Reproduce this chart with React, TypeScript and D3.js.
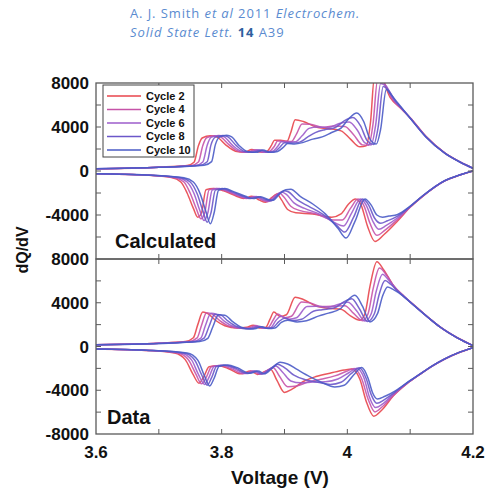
import React from "react";
import * as d3 from "d3";

type Pt = [number, number];

// Calculated panel, charge branch (dQ/dV > 0)
const calcChg2: Pt[] = [[3.6,200],[3.7,350],[3.745,500],[3.756,800],[3.763,2300],[3.769,3000],[3.782,3200],[3.792,3100],[3.806,2400],[3.822,1800],[3.836,1700],[3.848,1950],[3.86,1720],[3.872,1800],[3.879,2300],[3.884,2800],[3.894,2800],[3.904,2700],[3.91,3500],[3.917,4650],[3.93,4500],[3.95,4000],[3.97,3850],[3.99,3650],[4.005,2900],[4.02,2200],[4.03,2300],[4.037,4500],[4.043,8500],[4.053,8500],[4.068,6700],[4.085,5700],[4.1,4850],[4.125,3150],[4.155,1650],[4.18,800],[4.2,250]];
const calcChg4: Pt[] = [[3.6,200],[3.7,345],[3.752,505],[3.763,813],[3.77,2325],[3.776,3025],[3.789,3213],[3.798,3100],[3.812,2375],[3.827,1788],[3.841,1700],[3.853,1938],[3.864,1715],[3.876,1795],[3.884,2263],[3.889,2725],[3.9,2713],[3.911,2675],[3.919,3350],[3.928,4263],[3.941,4250],[3.96,3975],[3.978,4088],[3.996,4055],[4.01,3300],[4.024,2375],[4.034,2338],[4.041,4325],[4.048,8225],[4.057,8100],[4.071,6575],[4.086,5650],[4.1,4838],[4.125,3138],[4.155,1643],[4.18,798],[4.2,250]];
const calcChg6: Pt[] = [[3.6,200],[3.7,340],[3.759,510],[3.77,825],[3.777,2350],[3.783,3050],[3.795,3225],[3.804,3100],[3.817,2350],[3.832,1775],[3.846,1700],[3.857,1925],[3.869,1710],[3.881,1790],[3.889,2225],[3.895,2650],[3.905,2625],[3.917,2650],[3.928,3200],[3.939,3875],[3.953,4000],[3.97,3950],[3.987,4325],[4.003,4460],[4.016,3700],[4.028,2550],[4.038,2375],[4.045,4150],[4.053,7950],[4.062,7700],[4.074,6450],[4.088,5600],[4.1,4825],[4.125,3125],[4.155,1635],[4.18,795],[4.2,250]];
const calcChg8: Pt[] = [[3.6,200],[3.7,335],[3.765,515],[3.777,838],[3.783,2375],[3.79,3075],[3.802,3238],[3.81,3100],[3.823,2325],[3.837,1763],[3.85,1700],[3.862,1913],[3.873,1705],[3.885,1785],[3.893,2188],[3.9,2575],[3.911,2538],[3.924,2625],[3.936,3050],[3.949,3488],[3.964,3750],[3.98,3925],[3.995,4563],[4.009,4865],[4.021,4100],[4.032,2725],[4.042,2413],[4.049,3975],[4.057,7675],[4.066,7300],[4.077,6325],[4.089,5550],[4.1,4813],[4.125,3113],[4.155,1628],[4.18,793],[4.2,250]];
const calcChg10: Pt[] = [[3.6,200],[3.7,330],[3.772,520],[3.784,850],[3.79,2400],[3.797,3100],[3.808,3250],[3.816,3100],[3.828,2300],[3.842,1750],[3.855,1700],[3.866,1900],[3.877,1700],[3.889,1780],[3.898,2150],[3.905,2500],[3.916,2450],[3.93,2600],[3.945,2900],[3.96,3100],[3.975,3500],[3.99,3900],[4.003,4800],[4.015,5270],[4.026,4500],[4.036,2900],[4.046,2450],[4.053,3800],[4.062,7400],[4.07,6900],[4.08,6200],[4.09,5500],[4.1,4800],[4.125,3100],[4.155,1620],[4.18,790],[4.2,250]];

// Calculated panel, discharge branch (dQ/dV < 0)
const calcDis2: Pt[] = [[3.6,-250],[3.68,-380],[3.72,-600],[3.735,-1000],[3.745,-2000],[3.755,-3400],[3.762,-4200],[3.768,-3800],[3.775,-1700],[3.787,-1600],[3.803,-1800],[3.822,-2250],[3.835,-2500],[3.848,-2300],[3.86,-2650],[3.87,-2850],[3.879,-2450],[3.888,-2100],[3.895,-2600],[3.905,-3500],[3.918,-3800],[3.945,-3900],[3.975,-4200],[3.99,-3900],[4.002,-3000],[4.013,-2550],[4.022,-3100],[4.032,-5000],[4.044,-6400],[4.058,-5800],[4.08,-4550],[4.1,-3300],[4.12,-2300],[4.155,-900],[4.18,-350],[4.2,0]];
const calcDis4: Pt[] = [[3.6,-250],[3.68,-375],[3.725,-605],[3.74,-1000],[3.75,-2025],[3.76,-3475],[3.767,-4350],[3.773,-3800],[3.78,-1713],[3.792,-1600],[3.807,-1825],[3.826,-2263],[3.839,-2500],[3.852,-2313],[3.864,-2638],[3.873,-2800],[3.882,-2363],[3.892,-2000],[3.899,-2363],[3.91,-3200],[3.925,-3600],[3.95,-3900],[3.978,-4450],[3.992,-4450],[4.005,-3400],[4.017,-2550],[4.026,-3100],[4.036,-4750],[4.047,-5850],[4.06,-5375],[4.08,-4400],[4.1,-3275],[4.12,-2288],[4.155,-895],[4.18,-348],[4.2,0]];
const calcDis6: Pt[] = [[3.6,-250],[3.68,-370],[3.73,-610],[3.745,-1000],[3.756,-2050],[3.765,-3550],[3.772,-4500],[3.778,-3800],[3.785,-1725],[3.796,-1600],[3.812,-1850],[3.83,-2275],[3.843,-2500],[3.855,-2325],[3.867,-2625],[3.876,-2750],[3.886,-2275],[3.895,-1900],[3.903,-2125],[3.915,-2900],[3.932,-3400],[3.955,-3900],[3.98,-4700],[3.994,-5000],[4.007,-3800],[4.021,-2550],[4.03,-3100],[4.04,-4500],[4.05,-5300],[4.062,-4950],[4.08,-4250],[4.1,-3250],[4.12,-2275],[4.155,-890],[4.18,-345],[4.2,0]];
const calcDis8: Pt[] = [[3.6,-250],[3.68,-365],[3.735,-615],[3.75,-1000],[3.761,-2075],[3.77,-3625],[3.777,-4650],[3.783,-3800],[3.79,-1738],[3.801,-1600],[3.816,-1875],[3.834,-2288],[3.846,-2500],[3.859,-2338],[3.871,-2613],[3.879,-2700],[3.889,-2188],[3.899,-1800],[3.906,-1888],[3.92,-2600],[3.938,-3200],[3.96,-3900],[3.983,-4950],[3.996,-5550],[4.01,-4200],[4.024,-2550],[4.034,-3100],[4.043,-4250],[4.053,-4750],[4.064,-4525],[4.08,-4100],[4.1,-3225],[4.12,-2263],[4.155,-885],[4.18,-343],[4.2,0]];
const calcDis10: Pt[] = [[3.6,-250],[3.68,-360],[3.74,-620],[3.755,-1000],[3.766,-2100],[3.775,-3700],[3.782,-4800],[3.788,-3800],[3.795,-1750],[3.805,-1600],[3.82,-1900],[3.838,-2300],[3.85,-2500],[3.862,-2350],[3.874,-2600],[3.882,-2650],[3.892,-2100],[3.902,-1700],[3.91,-1650],[3.925,-2300],[3.945,-3000],[3.965,-3900],[3.985,-5200],[3.998,-6100],[4.012,-4600],[4.028,-2550],[4.038,-3100],[4.047,-4000],[4.056,-4200],[4.066,-4100],[4.08,-3950],[4.1,-3200],[4.12,-2250],[4.155,-880],[4.18,-340],[4.2,0]];

// Data panel, charge branch
const dataChg2: Pt[] = [[3.6,170],[3.7,300],[3.742,450],[3.755,800],[3.762,2000],[3.77,3150],[3.778,3000],[3.79,2400],[3.805,1900],[3.825,1700],[3.84,1750],[3.85,1950],[3.86,1700],[3.87,1750],[3.877,2500],[3.883,3150],[3.893,2750],[3.903,2900],[3.917,4500],[3.93,4300],[3.95,3700],[3.97,3500],[3.99,3400],[4.005,2800],[4.02,2400],[4.028,3000],[4.036,5500],[4.047,7750],[4.058,7000],[4.073,5600],[4.09,4600],[4.11,3600],[4.13,2600],[4.148,1770],[4.175,800],[4.2,80]];
const dataChg4: Pt[] = [[3.6,170],[3.7,295],[3.748,450],[3.761,788],[3.768,1950],[3.776,3090],[3.785,2960],[3.797,2360],[3.811,1875],[3.83,1675],[3.844,1725],[3.854,1913],[3.864,1688],[3.874,1738],[3.882,2425],[3.889,2963],[3.9,2625],[3.911,2763],[3.927,4075],[3.94,3988],[3.96,3650],[3.978,3675],[3.996,3720],[4.01,3025],[4.024,2363],[4.033,3000],[4.041,5275],[4.051,7175],[4.062,6563],[4.075,5425],[4.091,4525],[4.11,3588],[4.13,2595],[4.148,1768],[4.175,798],[4.2,80]];
const dataChg6: Pt[] = [[3.6,170],[3.7,290],[3.754,450],[3.767,775],[3.774,1900],[3.783,3030],[3.792,2925],[3.804,2325],[3.818,1850],[3.835,1650],[3.848,1700],[3.857,1875],[3.867,1675],[3.878,1725],[3.886,2350],[3.894,2775],[3.907,2500],[3.919,2625],[3.936,3650],[3.95,3675],[3.97,3600],[3.985,3850],[4.001,4040],[4.015,3250],[4.028,2325],[4.038,3000],[4.046,5050],[4.056,6600],[4.065,6125],[4.078,5250],[4.093,4450],[4.11,3575],[4.13,2590],[4.148,1765],[4.175,795],[4.2,80]];
const dataChg8: Pt[] = [[3.6,170],[3.7,285],[3.759,450],[3.772,763],[3.78,1850],[3.789,2960],[3.798,2890],[3.811,2290],[3.824,1825],[3.84,1625],[3.851,1675],[3.861,1838],[3.871,1663],[3.881,1713],[3.891,2275],[3.9,2588],[3.913,2375],[3.927,2488],[3.946,3225],[3.96,3363],[3.98,3550],[3.993,4025],[4.007,4360],[4.019,3475],[4.032,2288],[4.043,3000],[4.051,4825],[4.06,6025],[4.069,5688],[4.08,5075],[4.094,4375],[4.11,3563],[4.13,2585],[4.148,1763],[4.175,793],[4.2,80]];
const dataChg10: Pt[] = [[3.6,170],[3.7,280],[3.765,450],[3.778,750],[3.786,1800],[3.795,2900],[3.805,2850],[3.818,2250],[3.83,1800],[3.845,1600],[3.855,1650],[3.864,1800],[3.874,1650],[3.885,1700],[3.895,2200],[3.905,2400],[3.92,2250],[3.935,2350],[3.955,2800],[3.97,3050],[3.99,3500],[4.0,4200],[4.012,4680],[4.024,3700],[4.036,2250],[4.048,3000],[4.056,4600],[4.064,5450],[4.072,5250],[4.082,4900],[4.095,4300],[4.11,3550],[4.13,2580],[4.148,1760],[4.175,790],[4.2,80]];

// Data panel, discharge branch
const dataDis2: Pt[] = [[3.6,-230],[3.68,-360],[3.725,-600],[3.742,-1200],[3.754,-2500],[3.764,-3350],[3.772,-2700],[3.78,-1850],[3.795,-1750],[3.812,-2050],[3.83,-2500],[3.846,-2250],[3.857,-2550],[3.868,-2300],[3.878,-2100],[3.888,-3100],[3.9,-4200],[3.912,-3900],[3.93,-3200],[3.95,-2750],[3.975,-2400],[3.995,-2150],[4.007,-2050],[4.02,-3000],[4.03,-5000],[4.042,-6370],[4.055,-5800],[4.073,-4530],[4.095,-3400],[4.116,-2530],[4.135,-1800],[4.155,-1150],[4.18,-500],[4.2,-100]];
const dataDis4: Pt[] = [[3.6,-230],[3.68,-355],[3.73,-600],[3.747,-1213],[3.759,-2525],[3.768,-3413],[3.776,-2750],[3.784,-1838],[3.799,-1738],[3.815,-2025],[3.834,-2488],[3.849,-2250],[3.86,-2538],[3.871,-2225],[3.882,-1938],[3.892,-2725],[3.905,-3675],[3.919,-3613],[3.938,-3225],[3.958,-2988],[3.98,-2688],[3.999,-2263],[4.011,-2018],[4.023,-2975],[4.033,-4800],[4.044,-5978],[4.056,-5488],[4.074,-4423],[4.095,-3375],[4.116,-2523],[4.135,-1795],[4.155,-1145],[4.18,-498],[4.2,-100]];
const dataDis6: Pt[] = [[3.6,-230],[3.68,-350],[3.735,-600],[3.752,-1225],[3.763,-2550],[3.773,-3475],[3.78,-2800],[3.788,-1825],[3.803,-1725],[3.819,-2000],[3.838,-2475],[3.852,-2250],[3.863,-2525],[3.874,-2150],[3.886,-1775],[3.897,-2350],[3.91,-3150],[3.926,-3325],[3.945,-3250],[3.965,-3225],[3.985,-2975],[4.003,-2375],[4.015,-1985],[4.027,-2950],[4.035,-4600],[4.045,-5585],[4.058,-5175],[4.074,-4315],[4.095,-3350],[4.116,-2515],[4.135,-1790],[4.155,-1140],[4.18,-495],[4.2,-100]];
const dataDis8: Pt[] = [[3.6,-230],[3.68,-345],[3.74,-600],[3.757,-1238],[3.768,-2575],[3.777,-3538],[3.784,-2850],[3.792,-1813],[3.806,-1713],[3.822,-1975],[3.841,-2463],[3.855,-2250],[3.865,-2513],[3.877,-2075],[3.889,-1613],[3.901,-1975],[3.915,-2625],[3.933,-3038],[3.953,-3275],[3.973,-3463],[3.99,-3263],[4.006,-2488],[4.019,-1953],[4.03,-2925],[4.038,-4400],[4.047,-5193],[4.059,-4863],[4.075,-4208],[4.095,-3325],[4.116,-2508],[4.135,-1785],[4.155,-1135],[4.18,-493],[4.2,-100]];
const dataDis10: Pt[] = [[3.6,-230],[3.68,-340],[3.745,-600],[3.762,-1250],[3.772,-2600],[3.781,-3600],[3.788,-2900],[3.796,-1800],[3.81,-1700],[3.825,-1950],[3.845,-2450],[3.858,-2250],[3.868,-2500],[3.88,-2000],[3.893,-1450],[3.905,-1600],[3.92,-2100],[3.94,-2750],[3.96,-3300],[3.98,-3700],[3.995,-3550],[4.01,-2600],[4.023,-1920],[4.033,-2900],[4.04,-4200],[4.048,-4800],[4.06,-4550],[4.075,-4100],[4.095,-3300],[4.116,-2500],[4.135,-1780],[4.155,-1130],[4.18,-490],[4.2,-100]];

const cycles = ["Cycle 2", "Cycle 4", "Cycle 6", "Cycle 8", "Cycle 10"];
const cycleColors = ["#e8454b", "#c653a8", "#9d5ccb", "#6b57c9", "#4a5bc6"];
const xTicks = [3.6, 3.8, 4.0, 4.2];
const xTickLabels = ["3.6", "3.8", "4", "4.2"];
const xMinor = [3.7, 3.8, 3.9, 4.0, 4.1];
const yLabels = [8000, 4000, 0, -4000, -8000];
const yMinor = [-6000, -4000, -2000, 0, 2000, 4000, 6000];

const FONT = "'Liberation Sans', Arial, Helvetica, sans-serif";
const left = 96;
const right = 473;

const panels = [
  {
    id: "calc",
    name: "Calculated",
    top: 83,
    bottom: 259,
    nameY: 248,
    labels: yLabels.slice(0, 4),
    curves: [
      [calcChg2, calcDis2],
      [calcChg4, calcDis4],
      [calcChg6, calcDis6],
      [calcChg8, calcDis8],
      [calcChg10, calcDis10],
    ],
  },
  {
    id: "data",
    name: "Data",
    top: 259,
    bottom: 434,
    nameY: 424,
    labels: yLabels,
    curves: [
      [dataChg2, dataDis2],
      [dataChg4, dataDis4],
      [dataChg6, dataDis6],
      [dataChg8, dataDis8],
      [dataChg10, dataDis10],
    ],
  },
];

export default function App() {
  const x = d3.scaleLinear().domain([3.6, 4.2]).range([left, right]);
  const tick = 5;

  return (
    <svg
      width={487}
      height={490}
      style={{ position: "absolute", left: 0, top: 0, background: "#fff" }}
    >
      <defs>
        {panels.map((p) => (
          <clipPath id={`clip-${p.id}`} key={p.id}>
            <rect x={left} y={p.top} width={right - left} height={p.bottom - p.top} />
          </clipPath>
        ))}
      </defs>

      {/* citation */}
      <g fontFamily="'Open Sans', 'Noto Sans', sans-serif" fontSize={13} letterSpacing={0.9} fill="#5a8bd0">
        <text x={130} y={18}>
          A. J. Smith <tspan fontStyle="italic">et al</tspan> 2011{" "}
          <tspan fontStyle="italic">Electrochem.</tspan>
        </text>
        <text x={130} y={37}>
          <tspan fontStyle="italic">Solid State Lett.</tspan>{" "}
          <tspan fontWeight="bold" fill="#2f5f9f">14</tspan> A39
        </text>
      </g>

      {panels.map((p) => {
        const y = d3.scaleLinear().domain([-8000, 8000]).range([p.bottom, p.top]);
        const line = d3
          .line<Pt>()
          .x((d) => x(d[0]))
          .y((d) => y(d[1]))
          .curve(d3.curveMonotoneX);
        return (
          <g key={p.id}>
            <g clipPath={`url(#clip-${p.id})`}>
              {p.curves.map((pair, i) =>
                pair.map((c, j) => (
                  <path
                    key={`${i}-${j}`}
                    d={line(c) || ""}
                    fill="none"
                    stroke={cycleColors[i]}
                    strokeWidth={1.5}
                    strokeOpacity={0.9}
                  />
                ))
              )}
            </g>
            <rect
              x={left}
              y={p.top}
              width={right - left}
              height={p.bottom - p.top}
              fill="none"
              stroke="#5a5a5a"
              strokeWidth={1.3}
            />
            {yMinor.map((v) => (
              <g key={v} stroke="#5a5a5a" strokeWidth={1}>
                <line x1={left} x2={left + tick} y1={y(v)} y2={y(v)} />
                <line x1={right} x2={right - tick} y1={y(v)} y2={y(v)} />
              </g>
            ))}
            {xMinor.map((v) => (
              <g key={v} stroke="#5a5a5a" strokeWidth={1}>
                <line x1={x(v)} x2={x(v)} y1={p.top} y2={p.top + tick} />
                <line x1={x(v)} x2={x(v)} y1={p.bottom} y2={p.bottom - tick} />
              </g>
            ))}
            {p.labels.map((v) => (
              <text
                key={v}
                x={89}
                y={y(v)}
                dy="0.36em"
                textAnchor="end"
                fontFamily={FONT}
                fontWeight="bold"
                fontSize={17}
                fill="#111"
              >
                {v}
              </text>
            ))}
            <text
              x={p.id === "calc" ? 115 : 107}
              y={p.nameY}
              fontFamily={FONT}
              fontWeight="bold"
              fontSize={20}
              fill="#111"
            >
              {p.name}
            </text>
          </g>
        );
      })}

      {/* legend */}
      <g>
        <rect x={103} y={85} width={91} height={72} fill="#fff" stroke="#444" strokeWidth={1} />
        {cycles.map((c, i) => {
          const yy = 96 + i * 13.5;
          return (
            <g key={c}>
              <line x1={107} x2={141} y1={yy} y2={yy} stroke={cycleColors[i]} strokeWidth={1.6} />
              <text
                x={146}
                y={yy}
                dy="0.36em"
                fontFamily={FONT}
                fontWeight="bold"
                fontSize={11}
                fill="#111"
              >
                {c}
              </text>
            </g>
          );
        })}
      </g>

      {/* x axis labels */}
      {xTicks.map((v, i) => (
        <text
          key={v}
          x={x(v)}
          y={458}
          textAnchor="middle"
          fontFamily={FONT}
          fontWeight="bold"
          fontSize={17}
          fill="#111"
        >
          {xTickLabels[i]}
        </text>
      ))}
      <text
        x={280}
        y={484}
        textAnchor="middle"
        fontFamily={FONT}
        fontWeight="bold"
        fontSize={19}
        fill="#111"
      >
        Voltage (V)
      </text>
      <text
        transform="translate(28,250) rotate(-90)"
        textAnchor="middle"
        fontFamily={FONT}
        fontWeight="bold"
        fontSize={16}
        fill="#111"
      >
        dQ/dV
      </text>
    </svg>
  );
}
